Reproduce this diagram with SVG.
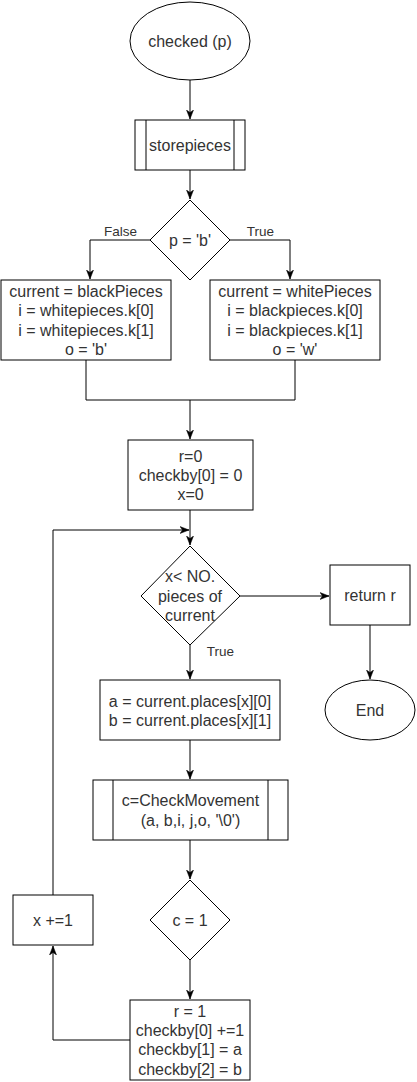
<svg xmlns="http://www.w3.org/2000/svg" width="417" height="1082" viewBox="0 0 417 1082">
<style>
.s{fill:#fff;stroke:#000;stroke-width:1}
.l{fill:none;stroke:#000;stroke-width:1}
.t{font-family:"Liberation Sans",Arial,sans-serif;font-size:16px;fill:#333;text-anchor:middle}
.e{font-family:"Liberation Sans",Arial,sans-serif;font-size:13.5px;fill:#333;text-anchor:middle}
</style>
<defs>
<marker id="a" markerUnits="userSpaceOnUse" markerWidth="10" markerHeight="8" viewBox="0 0 10 8" refX="9" refY="4" orient="auto">
<path d="M0,0.5 L9,4 L0,7.5 L2.5,4 Z" fill="#000" stroke="#000" stroke-width="0.5"/>
</marker>
</defs>
<rect width="417" height="1082" fill="#fff"/>
<g id="connectors">
<path class="l" d="M190,80 V119" marker-end="url(#a)"/>
<path class="l" d="M190,170 V199" marker-end="url(#a)"/>
<path class="l" d="M150,240 H90 V279" marker-end="url(#a)"/>
<path class="l" d="M230,240 H290 V279" marker-end="url(#a)"/>
<path class="l" d="M86,360 V400 H295 V360"/>
<path class="l" d="M190,400 V439" marker-end="url(#a)"/>
<path class="l" d="M190,510 V545" marker-end="url(#a)"/>
<path class="l" d="M240,596 H329" marker-end="url(#a)"/>
<path class="l" d="M370,625 V679" marker-end="url(#a)"/>
<path class="l" d="M190,645 V679" marker-end="url(#a)"/>
<path class="l" d="M190,740 V779" marker-end="url(#a)"/>
<path class="l" d="M190,840 V879" marker-end="url(#a)"/>
<path class="l" d="M190,960 V999" marker-end="url(#a)"/>
<path class="l" d="M130,1040 H53 V946" marker-end="url(#a)"/>
<path class="l" d="M53,895 V530 H189" marker-end="url(#a)"/>
<text class="e" x="120.5" y="236">False</text>
<text class="e" x="260.5" y="236">True</text>
<text class="e" x="220.5" y="656">True</text>
</g>
<g id="start">
<ellipse class="s" cx="190" cy="41" rx="60" ry="39"/>
<text class="t" x="190" y="47">checked (p)</text>
</g>
<g id="storepieces">
<rect class="s" x="135" y="120" width="110" height="50"/>
<path class="l" d="M146,120 V170 M234,120 V170"/>
<text class="t" x="190" y="151">storepieces</text>
</g>
<g id="decision-p">
<polygon class="s" points="190,200 230,240 190,280 150,240"/>
<text class="t" x="190" y="246">p = 'b'</text>
</g>
<g id="black">
<rect class="s" x="1" y="280" width="170" height="80"/>
<text class="t" x="86" y="297.2">current = blackPieces</text>
<text class="t" x="86" y="316.4">i = whitepieces.k[0]</text>
<text class="t" x="86" y="335.6">i = whitepieces.k[1]</text>
<text class="t" x="86" y="354.8">o = 'b'</text>
</g>
<g id="white">
<rect class="s" x="210" y="280" width="170" height="80"/>
<text class="t" x="295" y="297.2">current = whitePieces</text>
<text class="t" x="295" y="316.4">i = blackpieces.k[0]</text>
<text class="t" x="295" y="335.6">i = blackpieces.k[1]</text>
<text class="t" x="295" y="354.8">o = 'w'</text>
</g>
<g id="init">
<rect class="s" x="128" y="440" width="125" height="70"/>
<text class="t" x="190.5" y="461.8">r=0</text>
<text class="t" x="190.5" y="481">checkby[0] = 0</text>
<text class="t" x="190.5" y="500.2">x=0</text>
</g>
<g id="loop-decision">
<polygon class="s" points="190,546 240,596 190,645 141,596"/>
<text class="t" x="190" y="582">x&lt; NO.</text>
<text class="t" x="190" y="601.5">pieces of</text>
<text class="t" x="190" y="620.7">current</text>
</g>
<g id="return">
<rect class="s" x="330" y="565" width="80" height="60"/>
<text class="t" x="370" y="601">return r</text>
</g>
<g id="end">
<ellipse class="s" cx="370" cy="710" rx="45" ry="30"/>
<text class="t" x="370" y="716">End</text>
</g>
<g id="assign">
<rect class="s" x="100" y="680" width="180" height="60"/>
<text class="t" x="190" y="707">a = current.places[x][0]</text>
<text class="t" x="190" y="726">b = current.places[x][1]</text>
</g>
<g id="checkmovement">
<rect class="s" x="93" y="780" width="195" height="60"/>
<path class="l" d="M113,780 V840 M268,780 V840"/>
<text class="t" x="190.5" y="806.4">c=CheckMovement</text>
<text class="t" x="190.5" y="825.6">(a, b,i, j,o, '\0')</text>
</g>
<g id="decision-c">
<polygon class="s" points="190,880 230,920 190,960 150,920"/>
<text class="t" x="190" y="926">c = 1</text>
</g>
<g id="result">
<rect class="s" x="130" y="1000" width="120" height="80"/>
<text class="t" x="190" y="1017">r = 1</text>
<text class="t" x="190" y="1036.2">checkby[0] +=1</text>
<text class="t" x="190" y="1055.4">checkby[1] = a</text>
<text class="t" x="190" y="1074.6">checkby[2] = b</text>
</g>
<g id="increment">
<rect class="s" x="13" y="895" width="80" height="50"/>
<text class="t" x="53" y="926">x +=1</text>
</g>
</svg>
